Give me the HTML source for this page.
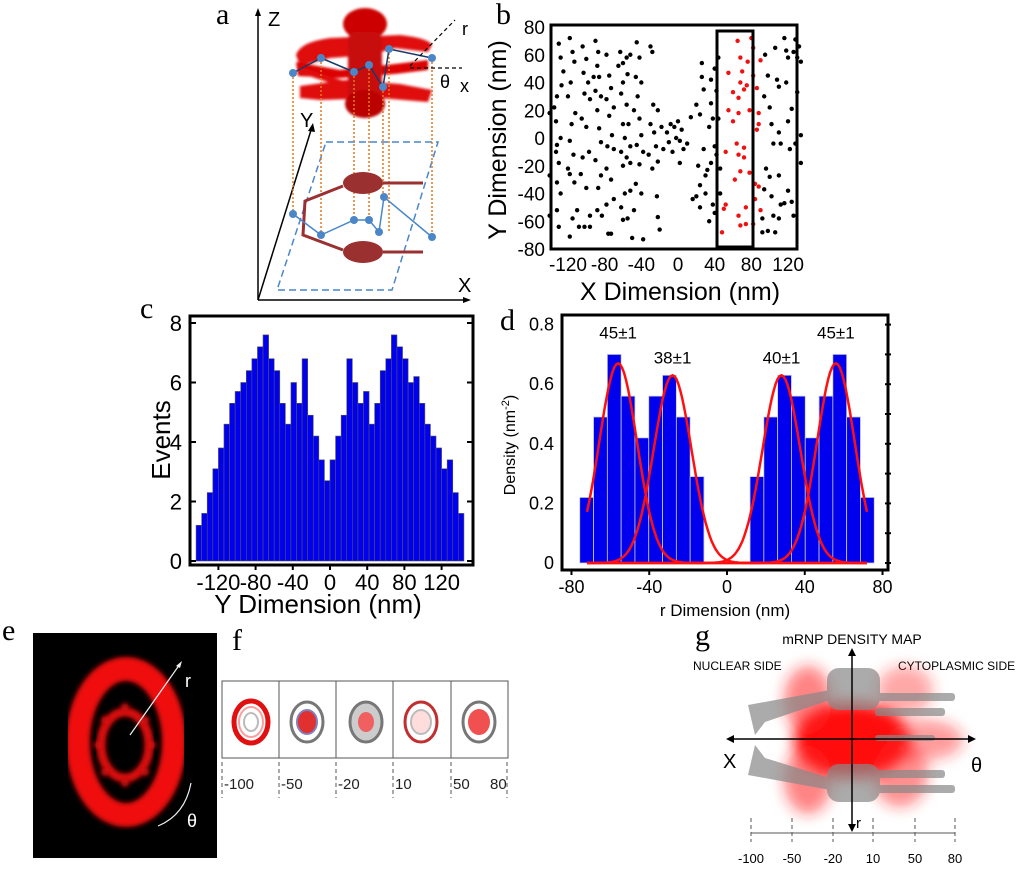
<!DOCTYPE html>
<html><head><meta charset="utf-8"><style>
html,body{margin:0;padding:0;background:#fff;width:1024px;height:871px;overflow:hidden}
svg{display:block;font-family:"Liberation Sans",sans-serif}
.pl{font-family:"Liberation Serif",serif;font-size:30px}
</style></head><body>
<svg id="fig" width="1024" height="871" viewBox="0 0 1024 871">
<defs>
<filter id="blur2"><feGaussianBlur stdDeviation="2.5"/></filter>
<filter id="blur1"><feGaussianBlur stdDeviation="1.2"/></filter>
<filter id="blur6"><feGaussianBlur stdDeviation="7"/></filter>
</defs>
<!-- Panel a -->
<g>
<text class="pl" x="216" y="24">a</text>
<line x1="258" y1="300" x2="258" y2="12" stroke="#000" stroke-width="1.5"/>
<polygon points="258,8 255,16 261,16" fill="#000"/>
<line x1="258" y1="300" x2="466" y2="300" stroke="#000" stroke-width="1.5"/>
<polygon points="471,300 463,297 463,303" fill="#000"/>
<line x1="258" y1="300" x2="312" y2="127" stroke="#000" stroke-width="1.5"/>
<polygon points="313,123 308,131 315,132" fill="#000"/>
<text x="268" y="26" font-size="20">Z</text>
<text x="300" y="127" font-size="20">Y</text>
<text x="458" y="292" font-size="20">X</text>
<g filter="url(#blur1)">
<ellipse cx="365" cy="24" rx="22" ry="16" fill="#c00"/>
<path d="M296,55 Q300,42 330,38 L400,35 Q428,38 432,45 L428,52 L395,48 L370,55 L330,58 L300,66 Z" fill="#e01010"/>
<path d="M296,62 L340,70 L395,64 L428,60 L428,70 L395,74 L340,78 L298,76 Z" fill="#d00"/>
<path d="M300,86 L345,80 L400,84 L432,90 L428,102 L380,98 L320,100 L300,98 Z" fill="#e01010"/>
<path d="M300,70 L350,86" stroke="#e01010" stroke-width="6"/>
<rect x="348" y="32" width="34" height="72" rx="8" fill="#c81010"/>
<ellipse cx="365" cy="104" rx="20" ry="14" fill="#b00"/>
</g>
<polygon points="326,142 438,142 392,290 277,290" fill="none" stroke="#4a86c8" stroke-width="1.5" stroke-dasharray="7,4"/>
<g stroke="#e07a20" stroke-width="1.5" stroke-dasharray="2,2">
<line x1="293" y1="73" x2="293" y2="214"/><line x1="321" y1="58" x2="321" y2="235"/><line x1="354" y1="72" x2="354" y2="220"/><line x1="369" y1="65" x2="369" y2="220"/><line x1="383" y1="87" x2="383" y2="197"/><line x1="389" y1="49" x2="389" y2="232"/><line x1="432" y1="58" x2="432" y2="237"/>
</g>
<polyline points="293,73 321,58 354,72 369,65 383,87 389,49 432,58" fill="none" stroke="#1a3a6a" stroke-width="1.5"/>
<g fill="#4a86c8"><circle cx="293" cy="73" r="4"/><circle cx="321" cy="58" r="4"/><circle cx="354" cy="72" r="4"/><circle cx="369" cy="65" r="4"/><circle cx="383" cy="87" r="4"/><circle cx="389" cy="49" r="4"/><circle cx="432" cy="58" r="4"/></g>
<g stroke="#000" stroke-width="1.2" stroke-dasharray="4,3" fill="none">
<line x1="410" y1="66" x2="455" y2="20"/><line x1="410" y1="68" x2="462" y2="68"/>
</g>
<text x="462" y="35" font-size="18">r</text><text x="440" y="88" font-size="18">θ</text><text x="460" y="92" font-size="18">x</text>
<ellipse cx="363" cy="183" rx="20" ry="11" fill="#9b3030"/>
<ellipse cx="363" cy="252" rx="20" ry="11" fill="#9b3030"/>
<polyline points="383,183 423,183" stroke="#9b3030" stroke-width="3" fill="none"/>
<polyline points="383,252 423,252" stroke="#9b3030" stroke-width="3" fill="none"/>
<polyline points="343,186 305,201 303,235 343,250" stroke="#9b3030" stroke-width="3" fill="none"/>
<polyline points="293,214 321,235 354,220 369,220 379,232 384,197 432,237" fill="none" stroke="#4a86c8" stroke-width="1.5"/>
<g fill="#4a86c8"><circle cx="293" cy="214" r="4"/><circle cx="321" cy="235" r="4"/><circle cx="354" cy="220" r="4"/><circle cx="369" cy="220" r="4"/><circle cx="379" cy="232" r="4"/><circle cx="384" cy="197" r="4"/><circle cx="432" cy="237" r="4"/></g>
</g>
<!-- Panel b -->
<g id="pb">
<text class="pl" x="496" y="24">b</text>
<rect x="551" y="25" width="246" height="224" fill="#fff" stroke="#000" stroke-width="3"/>
<text transform="translate(506,140) rotate(-90)" text-anchor="middle" font-size="25">Y Dimension (nm)</text>
<text x="680" y="300" text-anchor="middle" font-size="25">X Dimension (nm)</text>
</g>
<!-- Panel c -->
<g id="pc">
<text class="pl" x="140" y="318">c</text>
<rect x="190" y="316" width="283" height="249" fill="#fff" stroke="#000" stroke-width="3"/>
<text transform="translate(170,440) rotate(-90)" text-anchor="middle" font-size="26">Events</text>
<text x="318" y="613" text-anchor="middle" font-size="26">Y Dimension (nm)</text>
</g>
<!-- Panel d -->
<g id="pd">
<text class="pl" x="500" y="330">d</text>
<rect x="562" y="315" width="326" height="255" fill="#fff" stroke="#000" stroke-width="3"/>
<text transform="translate(515,445) rotate(-90)" text-anchor="middle" font-size="16">Density (nm<tspan baseline-shift="super" font-size="11">-2</tspan>)</text>
<text x="725" y="616" text-anchor="middle" font-size="17">r Dimension (nm)</text>
</g>
<!-- Panel e -->
<g>
<text class="pl" x="2" y="640">e</text>
<rect x="33" y="633" width="184" height="225" fill="#000"/>
<ellipse cx="126" cy="742" rx="48" ry="73" fill="none" stroke="#f01010" stroke-width="24" filter="url(#blur2)"/>
<ellipse cx="125" cy="745" rx="24" ry="33" fill="none" stroke="#e01010" stroke-width="9" filter="url(#blur2)"/>
<g fill="#d01010" filter="url(#blur2)"><circle cx="125" cy="707" r="4"/><circle cx="125" cy="783" r="4"/><circle cx="98" cy="745" r="4"/><circle cx="152" cy="745" r="4"/><circle cx="105" cy="720" r="4"/><circle cx="145" cy="720" r="4"/><circle cx="105" cy="772" r="4"/><circle cx="145" cy="772" r="4"/></g>
<line x1="130" y1="735" x2="180" y2="664" stroke="#eee" stroke-width="1.2"/>
<polygon points="182,661 176,666 180,668" fill="#eee"/>
<text x="185" y="687" font-size="18" fill="#fff">r</text>
<path d="M158,826 Q185,815 191,783" stroke="#eee" fill="none" stroke-width="1.2"/>
<text x="187" y="827" font-size="18" fill="#fff">θ</text>
</g>
<!-- Panel f -->
<g>
<text class="pl" x="232" y="650">f</text>
<rect x="222" y="681" width="286" height="77" fill="#fff" stroke="#555" stroke-width="1"/>
<g stroke="#555"><line x1="279" y1="681" x2="279" y2="758"/><line x1="336" y1="681" x2="336" y2="758"/><line x1="393" y1="681" x2="393" y2="758"/><line x1="451" y1="681" x2="451" y2="758"/></g>
<ellipse cx="251" cy="722" rx="17" ry="21" fill="#fff" stroke="#e01010" stroke-width="5"/>
<ellipse cx="251" cy="722" rx="12" ry="15" fill="none" stroke="#f8a0a0" stroke-width="2"/>
<ellipse cx="251" cy="722" rx="7" ry="9" fill="none" stroke="#bbb" stroke-width="2"/>
<ellipse cx="307" cy="722" rx="16" ry="20" fill="#fff" stroke="#777" stroke-width="3"/>
<ellipse cx="307" cy="722" rx="10" ry="12" fill="#e03030" stroke="#8080c0" stroke-width="2"/>
<ellipse cx="366" cy="722" rx="16" ry="20" fill="#ccc" stroke="#777" stroke-width="3"/>
<ellipse cx="366" cy="722" rx="8" ry="10" fill="#f06060"/>
<ellipse cx="421" cy="722" rx="16" ry="20" fill="#fff" stroke="#c03030" stroke-width="3"/>
<ellipse cx="421" cy="722" rx="10" ry="12" fill="#fdd" stroke="#bbb" stroke-width="2"/>
<ellipse cx="479" cy="722" rx="16" ry="20" fill="#fff" stroke="#777" stroke-width="3"/>
<ellipse cx="479" cy="722" rx="11" ry="13" fill="#f05050"/>
<g stroke="#555" stroke-dasharray="4,3"><line x1="222" y1="762" x2="222" y2="798"/><line x1="279" y1="762" x2="279" y2="798"/><line x1="336" y1="762" x2="336" y2="798"/><line x1="393" y1="762" x2="393" y2="798"/><line x1="451" y1="762" x2="451" y2="798"/><line x1="507" y1="762" x2="507" y2="798"/></g>
<g font-size="15" fill="#222"><text x="224" y="789">-100</text><text x="281" y="789">-50</text><text x="338" y="789">-20</text><text x="395" y="789">10</text><text x="453" y="789">50</text><text x="490" y="789">80</text></g>
</g>
<!-- Panel g -->
<g>
<text class="pl" x="695" y="645">g</text>
<text x="852" y="644" text-anchor="middle" font-size="14">mRNP DENSITY MAP</text>
<text x="693" y="670" font-size="12">NUCLEAR SIDE</text>
<text x="898" y="670" font-size="12">CYTOPLASMIC SIDE</text>
<g filter="url(#blur6)" fill="#ff2020">
<ellipse cx="852" cy="740" rx="58" ry="38" fill="#ff1010"/>
<ellipse cx="808" cy="700" rx="24" ry="34" opacity="0.55"/>
<ellipse cx="808" cy="780" rx="24" ry="34" opacity="0.55"/>
<ellipse cx="900" cy="775" rx="28" ry="32" opacity="0.5"/>
<ellipse cx="905" cy="690" rx="28" ry="24" opacity="0.4"/>
<ellipse cx="925" cy="740" rx="38" ry="20" opacity="0.45"/>
</g>
<g fill="#888" opacity="0.7">
<rect x="827" y="668" width="53" height="42" rx="12"/>
<rect x="827" y="764" width="53" height="38" rx="12"/>
<polygon points="748,705 830,690 830,700 765,722 755,735"/>
<polygon points="748,775 830,790 830,778 765,758 755,745"/>
<rect x="875" y="693" width="80" height="8" rx="3"/><rect x="875" y="708" width="70" height="8" rx="3"/>
<rect x="875" y="770" width="70" height="8" rx="3"/><rect x="875" y="785" width="80" height="8" rx="3"/>
<rect x="875" y="735" width="60" height="6" rx="3"/>
</g>
<line x1="730" y1="739" x2="972" y2="739" stroke="#000" stroke-width="1.5"/>
<polygon points="726,739 734,735 734,743" fill="#000"/><polygon points="976,739 968,735 968,743" fill="#000"/>
<line x1="852" y1="652" x2="852" y2="828" stroke="#000" stroke-width="1.5"/>
<polygon points="852,648 848,656 856,656" fill="#000"/><polygon points="852,832 848,824 856,824" fill="#000"/>
<text x="723" y="768" font-size="20">X</text><text x="971" y="772" font-size="20">θ</text><text x="856" y="828" font-size="15">r</text>
<g stroke="#555" stroke-dasharray="4,3"><line x1="751" y1="818" x2="751" y2="842"/><line x1="792" y1="818" x2="792" y2="842"/><line x1="833" y1="818" x2="833" y2="842"/><line x1="873" y1="818" x2="873" y2="842"/><line x1="915" y1="818" x2="915" y2="842"/><line x1="955" y1="818" x2="955" y2="842"/></g>
<line x1="751" y1="833" x2="955" y2="833" stroke="#555"/>
<g font-size="13" text-anchor="middle"><text x="751" y="863">-100</text><text x="792" y="863">-50</text><text x="833" y="863">-20</text><text x="873" y="863">10</text><text x="915" y="863">50</text><text x="955" y="863">80</text></g>
</g>
</svg>
<script>
// ---- Panel b data ----
const bBlackX=[-140,-130,-128,-125,-127,-132,-135,-133,-128,-132,-133,-130,-132,-128,-132,-130,-140,-140,-118,-115,-113,-117,-120,-112,-116,-118,-114,-120,-118,-113,-110,-115,-108,-118,-104,-100,-103,-98,-102,-96,-105,-100,-104,-97,-106,-100,-96,-102,-96,-90,-87,-88,-86,-92,-90,-84,-88,-86,-84,-90,-84,-87,-83,-88,-78,-75,-73,-78,-70,-75,-72,-77,-70,-78,-73,-70,-78,-73,-76,-63,-60,-65,-56,-52,-60,-55,-62,-56,-60,-54,-58,-52,-62,-56,-60,-52,-58,-52,-62,-55,-60,-48,-50,-45,-42,-46,-40,-44,-48,-42,-40,-45,-38,-42,-46,-40,-38,-30,-28,-27,-30,-26,-32,-28,-24,-22,-18,-16,-22,-23,-22,-20,-12,-10,-8,-6,-4,-2,0,2,4,2,6,10,14,16,20,20,22,24,24,24,26,26,28,28,30,30,32,34,34,36,36,36,38,38,40,40,40,42,42,44,44,46,46,95,98,94,96,94,92,92,100,102,104,100,102,104,98,106,108,110,110,112,110,112,110,116,118,120,118,120,122,120,124,126,128,130,130,132,134,128,126,134,134,124,116,106];
const bBlackY=[18,68,58,48,38,30,22,12,0,-5,-10,-18,-32,-40,-52,-64,-56,-27,72,62,55,40,30,18,10,-2,-12,-22,-26,-32,-52,-58,-64,-71,66,57,47,40,32,28,14,8,-14,-10,-26,-36,-56,-64,-64,70,62,52,44,44,34,30,20,7,-3,-16,-27,-36,-56,-52,60,45,36,28,22,16,2,-6,-8,-22,-30,-44,-48,-69,-69,62,54,52,58,60,40,46,32,24,10,10,0,-6,-10,-14,-20,-18,-40,-38,-50,-58,-59,-52,-72,69,58,44,40,30,20,14,2,-5,-10,-19,-33,-40,-73,66,62,24,10,4,-12,-22,-6,20,8,-8,-17,-42,-57,-66,4,-3,10,-10,8,0,12,-2,6,-18,-8,-4,15,-44,-42,24,-20,-34,17,-50,54,44,35,-8,-27,-40,-23,8,-60,42,25,-18,14,-48,50,-6,-54,34,-12,58,14,-22,-40,60,45,30,-22,-37,-58,-68,22,10,-4,-28,-42,-56,-67,65,42,37,4,-4,-27,-48,-58,72,63,58,40,12,-8,-38,-46,62,71,58,33,66,55,-4,-56,2,-18,21,-47,-68];
const bRedX=[55,60,55,52,52,50,48,60,62,65,68,68,66,66,64,66,68,66,68,70,72,72,72,74,74,76,75,78,78,80,82,82,84,82,84,86,88,86,90,90,88,88];
const bRedY=[47,33,20,-10,-48,-51,-68,12,-30,70,58,40,29,18,-4,-12,-24,-56,-63,48,35,-7,-14,-50,-62,55,38,20,-25,72,65,45,-33,-62,-44,36,18,6,56,-52,-35,10];
const bYTicks=[80,60,40,20,0,-20,-40,-60,-80];
const bXTicks=[-120,-80,-40,0,40,80,120];
// ---- Panel c data ----
const cBinCenters=[-141,-135,-129,-123,-117,-111,-105,-99,-93,-87,-81,-75,-69,-63,-57,-51,-45,-39,-33,-27,-21,-15,-9,-3,3,9,15,21,27,33,39,45,51,57,63,69,75,81,87,93,99,105,111,117,123,129,135,141];
const cCounts=[1.2,1.6,2.3,3.1,3.8,4.6,5.3,5.7,6.0,6.4,6.8,7.2,7.6,6.8,6.4,5.3,4.6,6.0,5.3,6.8,4.9,4.2,3.4,2.7,3.4,4.2,4.9,6.8,6.0,5.3,5.7,4.6,5.3,6.4,6.8,7.6,7.2,6.8,6.0,6.2,5.3,4.6,4.2,3.8,3.1,3.4,2.3,1.6];
const cYTicks=[0,2,4,6,8];
const cXTicks=[-120,-80,-40,0,40,80,120];
// ---- Panel d data ----
const dBinCenters=[-72.2,-65.1,-58,-50.9,-43.8,-36.7,-29.6,-22.5,-15.4,15.4,22.5,29.6,36.7,43.8,50.9,58,65.1,72.2];
const dDensity=[0.22,0.49,0.70,0.56,0.42,0.56,0.63,0.49,0.29,0.29,0.49,0.63,0.56,0.42,0.56,0.70,0.49,0.22];
const dFitCenters=[-56,-28,28,56];
const dFitAmps=[0.67,0.63,0.63,0.67];
const dFitSigma=[9.7,9.7,9.7,9.7];
const dFitLabels=["45±1","38±1","40±1","45±1"];
const dYTicks=[0,0.2,0.4,0.6,0.8];
const dXTicks=[-80,-40,0,40,80];

const NS="http://www.w3.org/2000/svg";
function mk(parent,tag,attrs,txt){const e=document.createElementNS(NS,tag);for(const k in attrs)e.setAttribute(k,attrs[k]);if(txt!==undefined)e.textContent=txt;parent.appendChild(e);return e;}

// Panel b
(function(){
const g=document.getElementById('pb');
const sx=v=>678+v*0.917, sy=v=>138-v*1.3875;
for(let i=0;i<bBlackX.length;i++){
 const c=mk(g,'circle',{cx:sx(bBlackX[i]),cy:sy(bBlackY[i]),r:2.2,fill:'#000'});
 
 
}
for(let i=0;i<bRedX.length;i++){
 const c=mk(g,'circle',{cx:sx(bRedX[i]),cy:sy(bRedY[i]),r:2.2,fill:'#f01010'});
 
 
}
const box=mk(g,'rect',{x:717,y:31,width:36,height:216,fill:'none',stroke:'#000','stroke-width':3});


bYTicks.forEach(v=>{const t=mk(g,'text',{x:545,y:sy(v)+7,'text-anchor':'end','font-size':19},String(v));
 
 });
bXTicks.forEach(v=>{const t=mk(g,'text',{x:sx(v),y:271,'text-anchor':'middle','font-size':19},String(v));
 
 });
})();

// Panel c
(function(){
const g=document.getElementById('pc');
const sx=v=>330+v*0.93, sy=v=>561-v*29.75, bw=6*0.93;
cBinCenters.forEach((c,i)=>{
 const r=mk(g,'rect',{x:sx(c)-bw/2,y:sy(cCounts[i]),width:bw,height:sy(0)-sy(cCounts[i]),fill:'#0000ee',stroke:'#555','stroke-width':0.6});
 
 
});
cYTicks.forEach(v=>{const t=mk(g,'text',{x:182,y:sy(v)+8,'text-anchor':'end','font-size':22},String(v));
 
 
 mk(g,'line',{x1:190,y1:sy(v),x2:196,y2:sy(v),stroke:'#000','stroke-width':2});
 mk(g,'line',{x1:473,y1:sy(v),x2:467,y2:sy(v),stroke:'#000','stroke-width':2});});
cXTicks.forEach(v=>{const t=mk(g,'text',{x:sx(v),y:590,'text-anchor':'middle','font-size':22},String(v));
 
 
 mk(g,'line',{x1:sx(v),y1:565,x2:sx(v),y2:570,stroke:'#000','stroke-width':2});});
})();

// Panel d
(function(){
const g=document.getElementById('pd');
const sx=v=>727+v*1.944, sy=v=>563-v*298, bw=7.1*1.944;
dBinCenters.forEach((c,i)=>{
 const r=mk(g,'rect',{x:sx(c)-bw/2,y:sy(dDensity[i]),width:bw,height:sy(0)-sy(dDensity[i]),fill:'#0000ee',stroke:'#ccc','stroke-width':0.8});
 
 
});
dFitCenters.forEach((m,k)=>{
 let d='';
 for(let x=-72;x<=72;x+=1){const y=dFitAmps[k]*Math.exp(-Math.pow(x-m,2)/(2*dFitSigma[k]*dFitSigma[k]));d+=(x===-72?'M':'L')+sx(x).toFixed(1)+','+sy(y).toFixed(1);}
 const p=mk(g,'path',{d:d,fill:'none',stroke:'#ff1010','stroke-width':2.5});
 
 
 const t=mk(g,'text',{x:sx(m),y:sy(dFitAmps[k])-(k===0||k===3?25:12),'text-anchor':'middle','font-size':17},dFitLabels[k]);
 
 
});
dYTicks.forEach(v=>{const t=mk(g,'text',{x:554,y:sy(v)+6,'text-anchor':'end','font-size':18},v===0?'0':v.toFixed(1));
 
 
 mk(g,'line',{x1:885,y1:sy(v),x2:891,y2:sy(v),stroke:'#000','stroke-width':2});
 if(v<0.8) mk(g,'line',{x1:885,y1:sy(v+0.1),x2:891,y2:sy(v+0.1),stroke:'#000','stroke-width':2});});
dXTicks.forEach(v=>{const t=mk(g,'text',{x:sx(v),y:593,'text-anchor':'middle','font-size':18},String(v));
 
 
 mk(g,'line',{x1:sx(v),y1:570,x2:sx(v),y2:575,stroke:'#000','stroke-width':2});});
})();
</script>
</body></html>
